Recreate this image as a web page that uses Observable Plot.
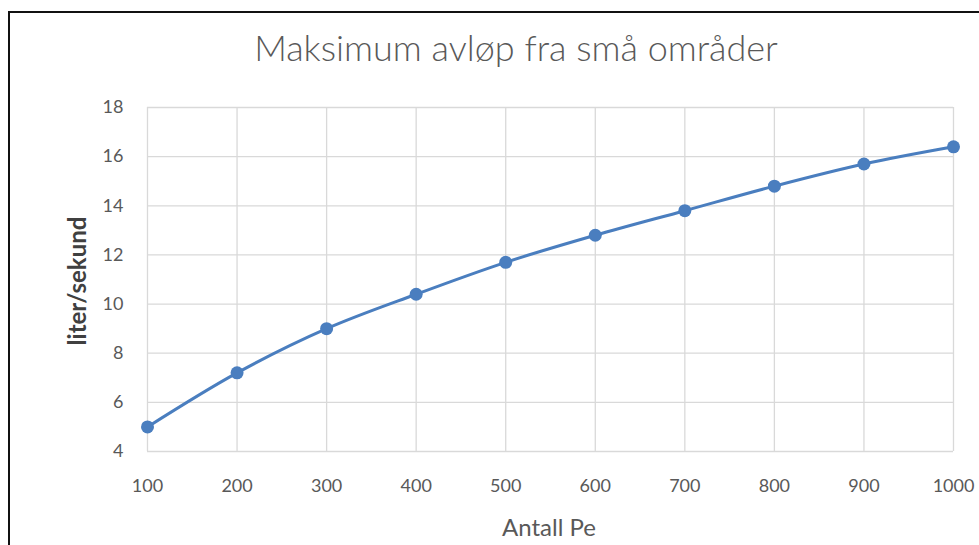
<!DOCTYPE html>
<html>
<head>
<meta charset="utf-8">
<script src="https://cdn.jsdelivr.net/npm/d3@7"></script>
<script src="https://cdn.jsdelivr.net/npm/@observablehq/plot@0.6"></script>
<style>
  html, body { margin: 0; padding: 0; background: #fff; }
  #wrap { position: relative; width: 979px; height: 545px; overflow: hidden; font-family: Lato, "Open Sans", sans-serif; }
  #frame { position: absolute; left: 8px; top: 11px; width: 990px; height: 560px; border: 2px solid #111; box-sizing: border-box; }
  #title { position: absolute; left: 0; width: 1032px; top: 27px; text-align: center; font-size: 36px; line-height: 40px; font-weight: 300; color: #595959; }
  #ylabel { position: absolute; left: 76px; top: 281px; transform: translate(-50%, -50%) rotate(-90deg); font-size: 24px; font-weight: 700; color: #404040; white-space: nowrap; }
  #xlabel { position: absolute; left: 549px; top: 526px; transform: translate(-50%, -50%); font-size: 24px; color: #595959; white-space: nowrap; }
  #chart { position: absolute; left: 0; top: 0; }
</style>
</head>
<body>
<div id="wrap">
  <div id="frame"></div>
  <div id="chart"></div>
  <div id="title">Maksimum avløp fra små områder</div>
  <div id="ylabel">liter/sekund</div>
  <div id="xlabel">Antall Pe</div>
</div>
<script>
const antallPe = [100, 200, 300, 400, 500, 600, 700, 800, 900, 1000];
const literPerSekund = [5.0, 7.2, 9.0, 10.4, 11.7, 12.8, 13.8, 14.8, 15.7, 16.4];
const xTicks = [100, 200, 300, 400, 500, 600, 700, 800, 900, 1000];
const yTicks = [4, 6, 8, 10, 12, 14, 16, 18];

const data = antallPe.map((x, i) => ({x, y: literPerSekund[i]}));
const color = "#4a7ebf";

const chart = Plot.plot({
  width: 979,
  height: 545,
  marginLeft: 147,
  marginRight: 26,
  marginTop: 107,
  marginBottom: 94,
  style: { fontFamily: "Lato, 'Open Sans', sans-serif", background: "transparent", overflow: "visible" },
  x: { type: "linear", domain: [100, 1000] },
  y: { domain: [4, 18] },
  marks: [
    Plot.gridX(xTicks, { stroke: "#d9d9d9", strokeOpacity: 1, strokeWidth: 1.3 }),
    Plot.gridY(yTicks, { stroke: "#d9d9d9", strokeOpacity: 1, strokeWidth: 1.3 }),
    Plot.axisX({ ticks: xTicks, tickSize: 0, tickPadding: 28, fontSize: 18, fill: "#595959", label: null, tickFormat: d => String(d) }),
    Plot.axisY({ ticks: yTicks, tickSize: 0, tickPadding: 24, fontSize: 18, fill: "#595959", label: null }),
    Plot.line(data, { x: "x", y: "y", stroke: color, strokeWidth: 3, curve: "catmull-rom" }),
    Plot.dot(data, { x: "x", y: "y", r: 6.5, fill: color, stroke: "none" })
  ]
});
document.getElementById("chart").appendChild(chart);
</script>
</body>
</html>
